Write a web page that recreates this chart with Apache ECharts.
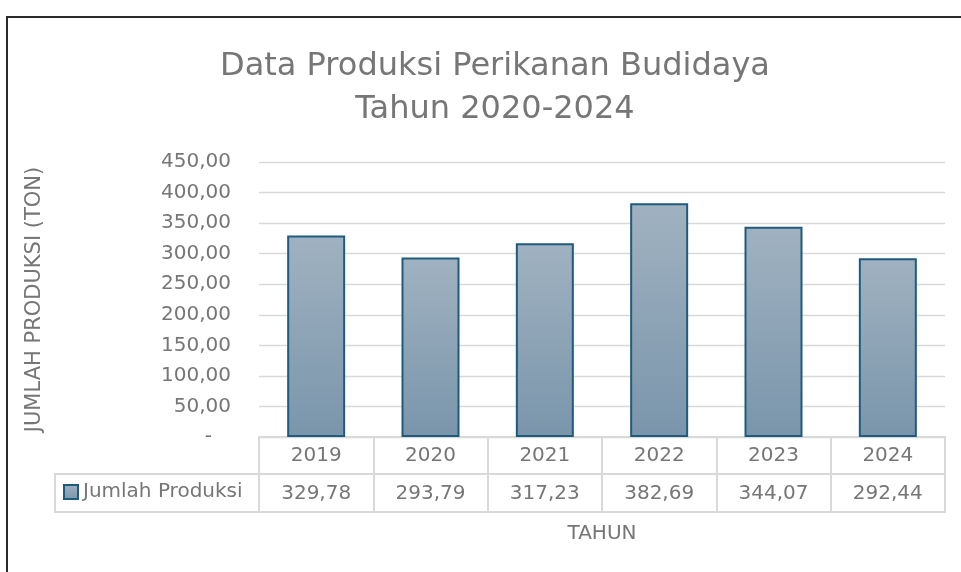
<!DOCTYPE html>
<html lang="id">

<head>
    <meta charset="UTF-8">
    <title>Data Produksi Perikanan Budidaya</title>
    <script src="https://cdn.jsdelivr.net/npm/echarts@6/dist/echarts.min.js"></script>
    <style>
        html, body { margin: 0; padding: 0; background: #fff; }
    </style>
</head>

<body>
    <div id="main" style="width: 961px;height:572px;"></div>
    <script type="text/javascript">
        // data
        var tahun = ['2019', '2020', '2021', '2022', '2023', '2024']
        var produksi = [329.78, 293.79, 317.23, 382.69, 344.07, 292.44]
        var namaSeri = 'Jumlah Produksi'

        var abu = '#767676'
        var garis = '#d9d9d9'
        var font = 'DejaVu Sans'

        function fmt(v) {
            return v.toFixed(2).replace('.', ',')
        }

        var barFill = new echarts.graphic.LinearGradient(0, 0, 0, 1, [
            { offset: 0, color: '#a0b2c1' },
            { offset: 1, color: '#7a95ab' }
        ])

        var myChart = echarts.init(document.getElementById('main'));

        var option = {
            animation: false,
            textStyle: { fontFamily: font },
            title: {
                text: 'Data Produksi Perikanan Budidaya\nTahun 2020-2024',
                left: 490,
                top: 40,
                textAlign: 'center',
                textStyle: { color: abu, fontSize: 32, fontWeight: 'normal', lineHeight: 43, fontFamily: font }
            },
            legend: {
                data: [{ name: namaSeri, icon: 'rect' }],
                left: 63,
                top: 482,
                padding: 0,
                itemWidth: 14,
                itemHeight: 14,
                textStyle: { color: abu, fontSize: 20 }
            },
            grid: { left: 259, right: 16, top: 162, bottom: 135 },
            xAxis: [
                {
                    type: 'category',
                    data: tahun,
                    position: 'bottom',
                    axisLine: { lineStyle: { color: garis, width: 2 } },
                    axisTick: { show: true, length: 75, lineStyle: { color: garis, width: 2 } },
                    axisLabel: { color: abu, fontSize: 20, margin: 9 }
                },
                {
                    type: 'category',
                    data: produksi.map(fmt),
                    position: 'bottom',
                    offset: 37,
                    axisLine: { lineStyle: { color: garis, width: 2 } },
                    axisTick: { show: false },
                    axisLabel: { color: abu, fontSize: 20, margin: 10 }
                },
                {
                    type: 'category',
                    data: tahun,
                    position: 'bottom',
                    offset: 75,
                    name: 'TAHUN',
                    nameLocation: 'middle',
                    nameGap: 12,
                    nameTextStyle: { color: abu, fontSize: 20 },
                    axisLine: { lineStyle: { color: garis, width: 2 } },
                    axisTick: { show: false },
                    axisLabel: { show: false }
                }
            ],
            yAxis: {
                type: 'value',
                min: 0,
                max: 450,
                interval: 50,
                name: 'JUMLAH PRODUKSI (TON)',
                nameLocation: 'middle',
                nameGap: 214,
                nameTextStyle: { color: abu, fontSize: 21 },
                axisLine: { show: false },
                axisTick: { show: false },
                splitLine: { lineStyle: { color: garis, width: 1.3 } },
                axisLabel: {
                    color: abu,
                    fontSize: 20,
                    margin: 28,
                    formatter: function (v) {
                        return v === 0 ? '-   ' : fmt(v)
                    }
                }
            },
            series: [{
                name: namaSeri,
                type: 'bar',
                xAxisIndex: 0,
                data: produksi,
                barWidth: 58,
                itemStyle: { color: barFill, borderColor: '#1f5b7c', borderWidth: 2 }
            }],
            graphic: [
                // bingkai luar
                { type: 'rect', shape: { x: 7, y: 17, width: 1000, height: 1000 }, style: { fill: 'none', stroke: '#2b2b2b', lineWidth: 2 }, silent: true },
                // sel legenda tabel data
                { type: 'line', shape: { x1: 54, y1: 474, x2: 259, y2: 474 }, style: { stroke: garis, lineWidth: 2 }, silent: true },
                { type: 'line', shape: { x1: 54, y1: 512, x2: 259, y2: 512 }, style: { stroke: garis, lineWidth: 2 }, silent: true },
                { type: 'line', shape: { x1: 55, y1: 474, x2: 55, y2: 512 }, style: { stroke: garis, lineWidth: 2 }, silent: true }
            ]
        };

        myChart.setOption(option);
    </script>
</body>

</html>
